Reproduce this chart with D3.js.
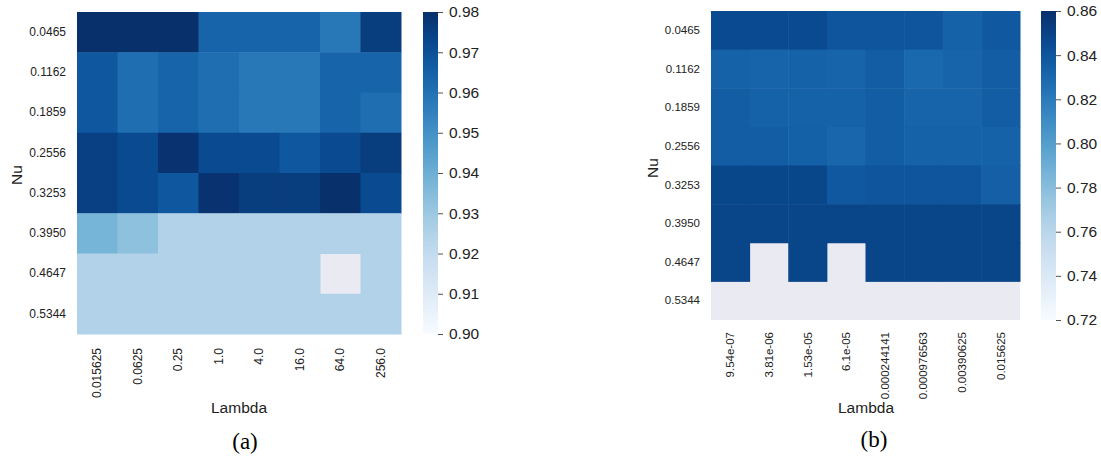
<!DOCTYPE html>
<meta charset="utf-8">
<style>

body {
  margin: 0;
  background: #fff;
}

svg {
  font-family: "Liberation Sans", Arial, sans-serif;
}

.tick text {
  fill: #222;
}

.caption {
  font-family: "Liberation Serif", "Times New Roman", serif;
  font-size: 23px;
  fill: #000;
}

</style>
<svg width="1101" height="456"></svg>
<script src="https://d3js.org/d3.v7.min.js"></script>
<script>

var nuLabels = ["0.0465", "0.1162", "0.1859", "0.2556", "0.3253", "0.3950", "0.4647", "0.5344"];

var lambdaA = ["0.015625", "0.0625", "0.25", "1.0", "4.0", "16.0", "64.0", "256.0"];
var lambdaB = ["9.54e-07", "3.81e-06", "1.53e-05", "6.1e-05", "0.000244141", "0.000976563", "0.00390625", "0.015625"];

// null = no result (masked cell)
var valuesA = [
  [0.980, 0.980, 0.980, 0.964, 0.964, 0.964, 0.958, 0.976],
  [0.968, 0.961, 0.964, 0.961, 0.958, 0.958, 0.964, 0.964],
  [0.968, 0.961, 0.964, 0.961, 0.958, 0.958, 0.964, 0.961],
  [0.975, 0.972, 0.979, 0.972, 0.972, 0.968, 0.972, 0.976],
  [0.975, 0.972, 0.968, 0.979, 0.976, 0.976, 0.980, 0.972],
  [0.938, 0.933, 0.925, 0.925, 0.925, 0.925, 0.925, 0.925],
  [0.925, 0.925, 0.925, 0.925, 0.925, 0.925, null,  0.925],
  [0.925, 0.925, 0.925, 0.925, 0.925, 0.925, 0.925, 0.925]
];

var valuesB = [
  [0.846, 0.846, 0.846, 0.840, 0.840, 0.840, 0.833, 0.838],
  [0.833, 0.832, 0.833, 0.832, 0.836, 0.830, 0.832, 0.836],
  [0.836, 0.833, 0.833, 0.833, 0.836, 0.832, 0.832, 0.836],
  [0.836, 0.836, 0.834, 0.831, 0.836, 0.833, 0.833, 0.833],
  [0.848, 0.848, 0.848, 0.838, 0.840, 0.840, 0.840, 0.835],
  [0.849, 0.849, 0.849, 0.849, 0.849, 0.849, 0.849, 0.849],
  [0.849, null,  0.849, null,  0.849, 0.849, 0.849, 0.849],
  [null,  null,  null,  null,  null,  null,  null,  null]
];

var ticksA = [0.90, 0.91, 0.92, 0.93, 0.94, 0.95, 0.96, 0.97, 0.98];
var ticksB = [0.72, 0.74, 0.76, 0.78, 0.80, 0.82, 0.84, 0.86];

var svg = d3.select("svg");

drawHeatmap({
  x0: 77, x1: 401, y0: 12, y1: 334,
  bar: [423, 438],
  cols: lambdaA, values: valuesA, domain: [0.90, 0.98], ticks: ticksA,
  yFont: 12, xFont: 12, xPad: 14,
  nu: [17, 175], lambda: [239, 413], caption: [245, 449, "(a)"]
});

drawHeatmap({
  x0: 711, x1: 1020, y0: 11, y1: 320,
  bar: [1041, 1056],
  cols: lambdaB, values: valuesB, domain: [0.72, 0.86], ticks: ticksB,
  yFont: 11.5, xFont: 11.5, xPad: 12,
  nu: [653, 168], lambda: [866, 413], caption: [874, 447, "(b)"]
});

function drawHeatmap(c) {
  var x = d3.scaleBand().domain(c.cols).range([c.x0, c.x1]);
  var y = d3.scaleBand().domain(nuLabels).range([c.y0, c.y1]);
  var color = d3.scaleSequential(d3.interpolateBlues).domain(c.domain);

  var g = svg.append("g");

  // masked cells show the axes background
  g.append("rect")
      .attr("x", c.x0)
      .attr("y", c.y0)
      .attr("width", c.x1 - c.x0)
      .attr("height", c.y1 - c.y0)
      .attr("fill", "#eaeaf2");

  var cells = [];
  c.values.forEach(function(row, i) {
    row.forEach(function(v, j) {
      if (v != null) cells.push({row: nuLabels[i], col: c.cols[j], value: v});
    });
  });

  g.selectAll(".cell")
    .data(cells)
    .enter().append("rect")
      .attr("class", "cell")
      .attr("x", function(d) { return x(d.col); })
      .attr("y", function(d) { return y(d.row); })
      .attr("width", x.bandwidth() + 0.5)
      .attr("height", y.bandwidth() + 0.5)
      .attr("fill", function(d) { return color(d.value); });

  var yAxis = g.append("g")
      .attr("transform", "translate(" + c.x0 + ",0)")
      .call(d3.axisLeft(y).tickSize(0).tickPadding(11));
  yAxis.select(".domain").remove();
  yAxis.selectAll("text").style("font-size", c.yFont + "px");

  var xAxis = g.append("g")
      .attr("transform", "translate(0," + c.y1 + ")")
      .call(d3.axisBottom(x).tickSize(0));
  xAxis.select(".domain").remove();
  xAxis.selectAll("text")
      .style("font-size", c.xFont + "px")
      .style("text-anchor", "end")
      .attr("dy", "0.35em")
      .attr("y", 0)
      .attr("x", -c.xPad)
      .attr("transform", "rotate(-90)");

  g.append("text")
      .attr("transform", "translate(" + c.nu[0] + "," + c.nu[1] + ") rotate(-90)")
      .attr("dy", "0.35em")
      .attr("text-anchor", "middle")
      .style("font-size", "15.5px")
      .style("fill", "#222")
      .text("Nu");

  g.append("text")
      .attr("x", c.lambda[0])
      .attr("y", c.lambda[1])
      .attr("text-anchor", "middle")
      .style("font-size", "15.5px")
      .style("fill", "#222")
      .text("Lambda");

  g.append("text")
      .attr("class", "caption")
      .attr("x", c.caption[0])
      .attr("y", c.caption[1])
      .attr("text-anchor", "middle")
      .text(c.caption[2]);

  // colour bar
  var id = "grad" + c.x0;
  var grad = svg.append("defs").append("linearGradient")
      .attr("id", id)
      .attr("x1", 0).attr("y1", 1).attr("x2", 0).attr("y2", 0);
  d3.range(0, 1.0001, 0.05).forEach(function(t) {
    grad.append("stop")
        .attr("offset", t)
        .attr("stop-color", d3.interpolateBlues(t));
  });

  g.append("rect")
      .attr("x", c.bar[0])
      .attr("y", c.y0)
      .attr("width", c.bar[1] - c.bar[0])
      .attr("height", c.y1 - c.y0)
      .attr("fill", "url(#" + id + ")");

  var v = d3.scaleLinear().domain(c.domain).range([c.y1, c.y0]);
  var cAxis = g.append("g")
      .attr("transform", "translate(" + c.bar[1] + ",0)")
      .call(d3.axisRight(v).tickValues(c.ticks).tickFormat(d3.format(".2f")).tickSize(5).tickPadding(6));
  cAxis.select(".domain").remove();
  cAxis.selectAll("line").attr("stroke", "#262626").attr("stroke-width", 0.8);
  cAxis.selectAll("text").style("font-size", "15.5px");
}

</script>
